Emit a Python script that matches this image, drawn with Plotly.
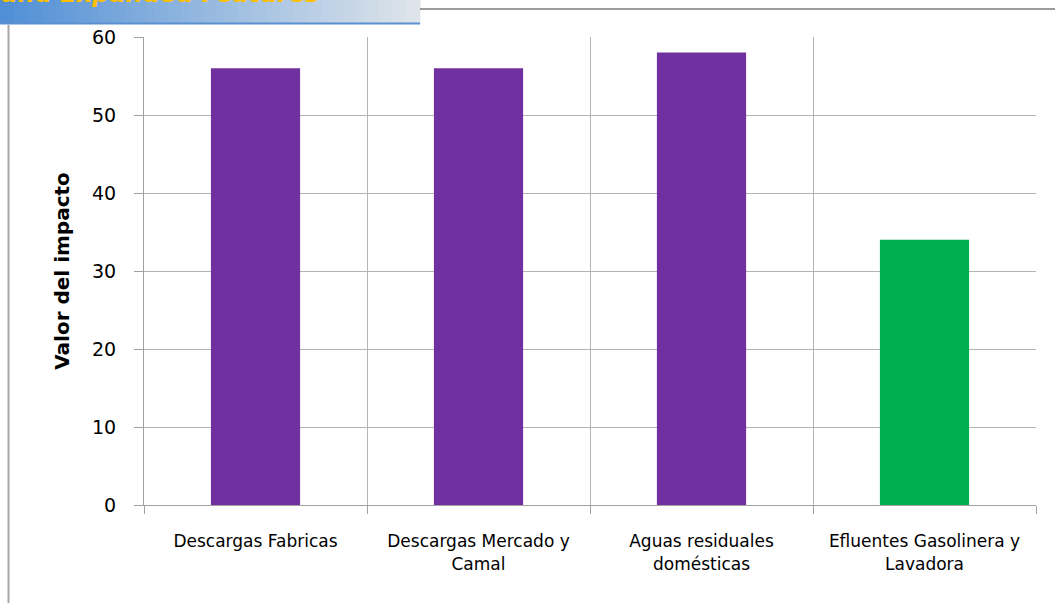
import plotly.graph_objects as go

categories = ["Descargas Fabricas", "Descargas Mercado y<br>Camal",
              "Aguas residuales<br>domésticas", "Efluentes Gasolinera y<br>Lavadora"]
values = [56, 56, 58, 34]
bar_colors = ["#7030A0", "#7030A0", "#7030A0", "#00B050"]
y_ticks = [0, 10, 20, 30, 40, 50, 60]

W, H = 1055, 603
ML, MR, MT, MB = 144, 19, 37, 98
PW, PH = W - ML - MR, H - MT - MB

def px2x(px):
    return (px - ML) / PW

def px2y(py):
    return 1 - (py - MT) / PH

fig = go.Figure(go.Bar(x=categories, y=values, marker_color=bar_colors,
                       marker_line_width=0, hoverinfo="x+y"))

shapes = []
# banner gradient
n = 60
c0 = (80, 143, 214)
c1 = (222, 228, 234)
bx0, bx1, by0, by1 = 0, 420, 0, 23
for i in range(n):
    t = i / (n - 1)
    c = tuple(int(round(c0[k] + (c1[k] - c0[k]) * t)) for k in range(3))
    xa = bx0 + (bx1 - bx0) * i / n
    xb = bx0 + (bx1 - bx0) * (i + 1) / n + 0.5
    shapes.append(dict(type="rect", xref="paper", yref="paper",
                       x0=px2x(xa), x1=px2x(xb), y0=px2y(by1), y1=px2y(by0 - 2),
                       fillcolor="rgb(%d,%d,%d)" % c, line_width=0, layer="below"))
shapes.append(dict(type="line", xref="paper", yref="paper", x0=px2x(0), x1=px2x(420),
                   y0=px2y(23.5), y1=px2y(23.5), line=dict(color="#5a8fd0", width=2)))
# slide decorations
shapes.append(dict(type="line", xref="paper", yref="paper", x0=px2x(420), x1=px2x(1055),
                   y0=px2y(9), y1=px2y(9), line=dict(color="#7a7a7a", width=1.5)))
shapes.append(dict(type="line", xref="paper", yref="paper", x0=px2x(8.5), x1=px2x(8.5),
                   y0=px2y(25), y1=px2y(603), line=dict(color="#a8a8a8", width=2)))

fig.update_layout(
    width=W, height=H,
    margin=dict(l=ML, r=MR, t=MT, b=MB),
    paper_bgcolor="white", plot_bgcolor="white",
    bargap=0.6, showlegend=False,
    shapes=shapes,
    annotations=[dict(text="<b><i>Pro and Expanded Features</i></b>", xref="paper", yref="paper",
                      x=px2x(322), y=px2y(10), xanchor="right", yanchor="bottom",
                      showarrow=False, font=dict(family="DejaVu Sans", size=24, color="#FFC000"))],
    xaxis=dict(type="category", tickson="boundaries", ticks="outside", ticklen=8,
               tickcolor="#a0a0a0", showgrid=True, gridcolor="#b4b4b4", gridwidth=1,
               showline=True, linecolor="#a0a0a0", linewidth=1,
               tickfont=dict(family="DejaVu Sans", size=17, color="black"),
               ticklabelstandoff=21),
    yaxis=dict(range=[0, 60], tickvals=y_ticks, ticks="outside", ticklen=9,
               tickcolor="#a0a0a0", showgrid=True, gridcolor="#b4b4b4", gridwidth=1,
               showline=True, linecolor="#a0a0a0", linewidth=1, zeroline=False,
               tickfont=dict(family="DejaVu Sans", size=19, color="black"),
               ticklabelstandoff=14,
               title=dict(text="<b>Valor del impacto</b>", standoff=17,
                          font=dict(family="DejaVu Sans", size=20, color="black"))),
)

fig.write_html("out.html")
